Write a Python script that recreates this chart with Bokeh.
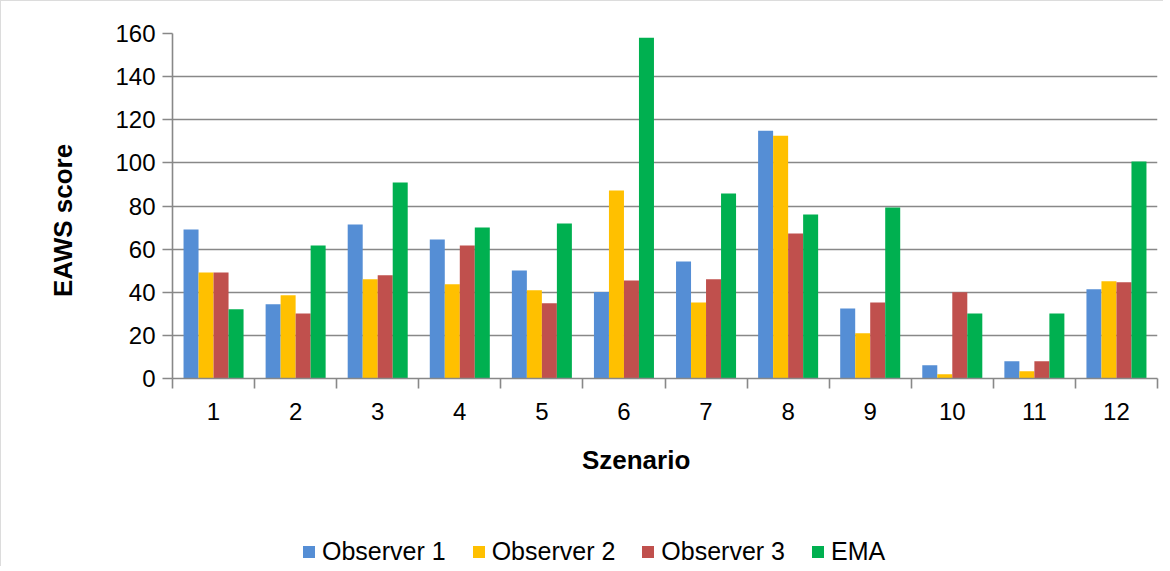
from bokeh.plotting import figure
from bokeh.layouts import column
from bokeh.models import ColumnDataSource, FixedTicker, Legend, LegendItem, Range1d
from bokeh.transform import dodge
from bokeh.embed import file_html
from bokeh.resources import INLINE

scenarios = [1, 2, 3, 4, 5, 6, 7, 8, 9, 10, 11, 12]
observer1 = [69.1, 34.4, 71.4, 64.5, 50.1, 40.1, 54.3, 114.9, 32.5, 6.2, 8.0, 41.4]
observer2 = [49.2, 38.6, 46.0, 43.7, 40.9, 87.2, 35.3, 112.6, 21.0, 2.0, 3.4, 45.1]
observer3 = [49.2, 30.2, 47.9, 61.7, 34.9, 45.5, 46.0, 67.3, 35.3, 40.0, 8.0, 44.6]
ema = [32.1, 61.7, 90.9, 70.0, 71.9, 158.0, 85.8, 76.1, 79.3, 30.2, 30.2, 100.6]

series_names = ["Observer 1", "Observer 2", "Observer 3", "EMA"]
colors = ["#558ED5", "#FFC000", "#C0504D", "#00B050"]
y_ticks = [0, 20, 40, 60, 80, 100, 120, 140, 160]
x_title = "Szenario"
y_title = "EAWS score"

src = ColumnDataSource(dict(x=scenarios, o1=observer1, o2=observer2, o3=observer3, ema=ema))

FONT = "Liberation Sans"
W = 1163
NBSP = "\u00a0"

p = figure(width=W, height=500, output_backend="svg", toolbar_location=None,
           x_range=Range1d(0.5, 12.5), y_range=Range1d(0, 160),
           min_border_left=171, min_border_right=7, min_border_top=32, min_border_bottom=123)
p.styles = {"border-top": "1px solid #dcdcdc", "border-left": "1px solid #dcdcdc"}

bw = 0.1828
offsets = [-1.5 * bw, -0.5 * bw, 0.5 * bw, 1.5 * bw]
fields = ["o1", "o2", "o3", "ema"]
for f, off, c in zip(fields, offsets, colors):
    p.vbar(x=dodge("x", off, range=p.x_range), top=f, width=bw, source=src,
           fill_color=c, line_color=None)

p.outline_line_color = None
p.xgrid.grid_line_color = None
p.ygrid.grid_line_color = "#888888"
p.ygrid.grid_line_width = 1.6
p.ygrid.ticker = FixedTicker(ticks=y_ticks)

# x axis
p.xaxis.ticker = FixedTicker(ticks=scenarios, minor_ticks=[s - 0.5 for s in scenarios] + [12.5])
p.xaxis.major_tick_line_color = None
p.xaxis.minor_tick_line_color = "#888888"
p.xaxis.minor_tick_line_width = 1.6
p.xaxis.minor_tick_out = 10
p.xaxis.minor_tick_in = 0
p.xaxis.axis_line_color = "#888888"
p.xaxis.axis_line_width = 1.6
p.xaxis.major_label_text_font = FONT
p.xaxis.major_label_text_font_size = "24px"
p.xaxis.major_label_text_color = "#000000"
p.xaxis.major_label_standoff = 14
p.xaxis.axis_label = x_title + NBSP * 8
p.xaxis.axis_label_text_font = FONT
p.xaxis.axis_label_text_font_size = "26px"
p.xaxis.axis_label_text_font_style = "bold"
p.xaxis.axis_label_text_color = "#000000"
p.xaxis.axis_label_standoff = 22

# y axis
p.yaxis.ticker = FixedTicker(ticks=y_ticks)
p.yaxis.minor_tick_line_color = None
p.yaxis.major_tick_line_color = "#888888"
p.yaxis.major_tick_line_width = 1.6
p.yaxis.major_tick_out = 10
p.yaxis.major_tick_in = 0
p.yaxis.axis_line_color = "#888888"
p.yaxis.axis_line_width = 1.6
p.yaxis.major_label_text_font = FONT
p.yaxis.major_label_text_font_size = "24px"
p.yaxis.major_label_text_color = "#000000"
p.yaxis.major_label_standoff = 7
p.yaxis.axis_label = y_title + NBSP * 4
p.yaxis.axis_label_text_font = FONT
p.yaxis.axis_label_text_font_size = "26px"
p.yaxis.axis_label_text_font_style = "bold"
p.yaxis.axis_label_text_color = "#000000"
p.yaxis.axis_label_standoff = 34

# legend strip (separate figure below the chart); its zero-width bars draw nothing
leg = figure(width=W, height=66, output_backend="svg", toolbar_location=None,
             x_range=Range1d(0.5, 12.5), y_range=Range1d(-2, -1),
             min_border=0, x_axis_type=None, y_axis_type=None)
leg.styles = {"border-left": "1px solid #dcdcdc"}
leg.outline_line_color = None
leg.xgrid.visible = False
leg.ygrid.visible = False
leg_renderers = [leg.vbar(x="x", top=f, width=0, source=src, fill_color=c, line_color=None)
                 for f, c in zip(fields, colors)]
items = [LegendItem(label=n, renderers=[r]) for n, r in zip(series_names, leg_renderers)]
legend = Legend(items=items, orientation="horizontal", location=(129, 0),
                border_line_color=None, background_fill_alpha=0,
                label_text_font=FONT, label_text_font_size="25px", label_text_color="#000000",
                glyph_width=15, glyph_height=15, label_standoff=6, spacing=25,
                padding=0, margin=0)
leg.add_layout(legend, "center")

layout = column(p, leg, spacing=0)
open("out.html", "w").write(file_html(layout, INLINE))
